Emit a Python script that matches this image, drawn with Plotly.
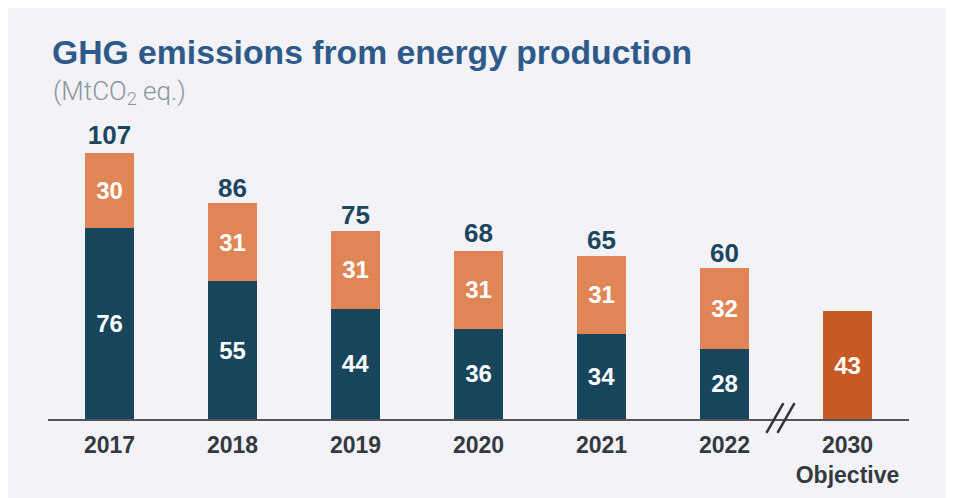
import plotly.graph_objects as go

categories = ["2017", "2018", "2019", "2020", "2021", "2022", "2030<br>Objective"]
fossil = [76, 55, 44, 36, 34, 28, None]
other = [30, 31, 31, 31, 31, 32, None]
totals = [107, 86, 75, 68, 65, 60, None]
objective = [None, None, None, None, None, None, 43]

DARK = "#16455C"
ORANGE = "#E08555"
OBJ = "#C65A22"
BG = "#F2F2F7"
FONT = "Liberation Sans, Arial"

seg_font = dict(color="white", size=24, family=FONT, weight="bold")

fig = go.Figure()
fig.add_trace(go.Bar(x=categories, y=fossil, marker_color=DARK, marker_line_width=0,
                     text=[str(v) if v is not None else "" for v in fossil],
                     textposition="inside", insidetextanchor="middle",
                     textfont=seg_font, hoverinfo="skip"))
fig.add_trace(go.Bar(x=categories, y=other, marker_color=ORANGE, marker_line_width=0,
                     text=[str(v) if v is not None else "" for v in other],
                     textposition="inside", insidetextanchor="middle",
                     textfont=seg_font, hoverinfo="skip"))
fig.add_trace(go.Bar(x=categories, y=objective, marker_color=OBJ, marker_line_width=0,
                     text=[str(v) if v is not None else "" for v in objective],
                     textposition="inside", insidetextanchor="middle",
                     textfont=seg_font, hoverinfo="skip"))
fig.add_trace(go.Scatter(x=categories, y=totals, mode="text",
                         text=[str(v) if v is not None else "" for v in totals],
                         textposition="top center",
                         textfont=dict(color="#1A4660", size=26, family=FONT, weight="bold"),
                         cliponaxis=False, hoverinfo="skip"))

# axis break marks between 2022 and 2030
for x0, x1 in [(5.341, 5.479), (5.431, 5.569)]:
    fig.add_shape(type="line", xref="x", yref="paper",
                  x0=x0, x1=x1, y0=-0.0506, y1=0.0579,
                  line=dict(color="#333333", width=2.5))

fig.update_layout(
    width=953, height=498,
    paper_bgcolor=BG, plot_bgcolor=BG,
    barmode="stack", bargap=0.6, showlegend=False,
    margin=dict(l=40, r=52, t=134.5, b=87),
    font=dict(family=FONT),
    xaxis=dict(showline=True, linecolor="#555555", linewidth=2, ticks="",
               range=[-0.5, 6.5], showgrid=False, ticklabelstandoff=4,
               tickfont=dict(size=23, color="#333A3F", weight="bold")),
    yaxis=dict(visible=False, range=[0, 110], showgrid=False),
    annotations=[
        dict(text="<b>GHG emissions from energy production</b>", xref="paper", yref="paper",
             x=0.0, y=1.0, xanchor="left", yanchor="middle", yshift=91, xshift=2, showarrow=False,
             font=dict(size=33.7, color="#2E5A8A")),
        dict(text="(MtCO<sub>2</sub> eq.)", xref="paper", yref="paper",
             x=0.0, y=1.0, xanchor="left", yanchor="middle", yshift=51, xshift=3, showarrow=False,
             font=dict(size=26, color="#8C959B", family="Roboto", weight=300)),
    ],
)

fig.write_html("out.html")
